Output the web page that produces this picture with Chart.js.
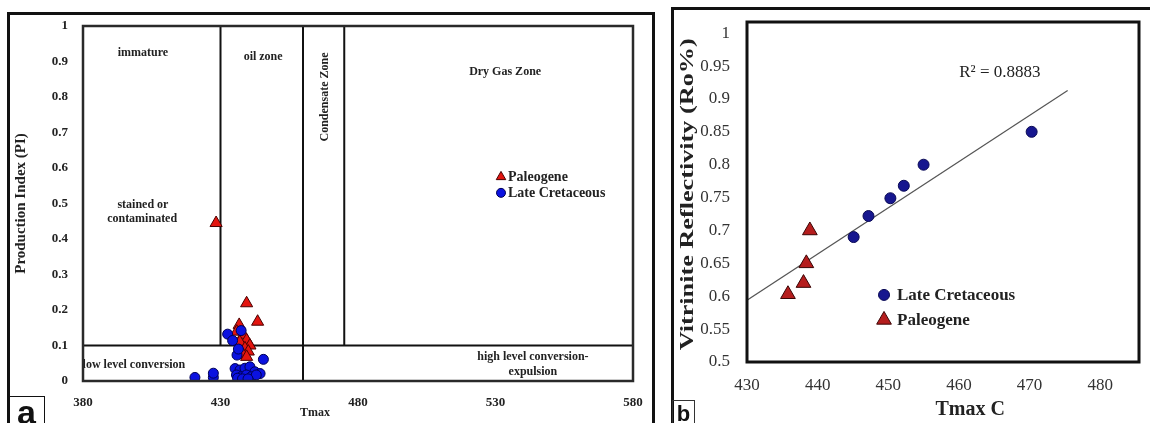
<!DOCTYPE html>
<html>
<head>
<meta charset="utf-8">
<script src="https://cdn.jsdelivr.net/npm/chart.js@4.4.1/dist/chart.umd.min.js"></script>
<style>
html,body{margin:0;padding:0;background:#fff;width:1150px;height:423px;overflow:hidden;}
body{position:relative;}
.abs{position:absolute;}
#frameA{left:7px;top:12px;width:642px;height:440px;border:3px solid #111;border-bottom:none;}
#frameB{left:671px;top:7px;width:520px;height:440px;border-left:3px solid #111;border-top:3px solid #111;}
#boxA{left:8px;top:396px;width:35px;height:40px;border:1.5px solid #111;font:bold 34px "Liberation Sans",Arial,sans-serif;line-height:30px;text-align:center;color:#111;}
#boxB{left:672px;top:400px;width:21px;height:30px;border:1.5px solid #333;font:bold 22px "Liberation Sans",Arial,sans-serif;line-height:26px;text-align:center;color:#111;}
#wrapA{left:8px;top:13px;width:640px;height:410px;}
#wrapB{left:675px;top:11px;width:475px;height:412px;}
</style>
</head>
<body>
<div id="frameA" class="abs"></div>
<div id="frameB" class="abs"></div>
<div id="wrapA" class="abs"><canvas id="chartA" width="640" height="410"></canvas></div>
<div id="wrapB" class="abs"><canvas id="chartB" width="475" height="412"></canvas></div>
<div id="boxA" class="abs">a</div>
<div id="boxB" class="abs">b</div>
<script>
// ---------- Data: panel a (Production Index vs Tmax) ----------
const paleogeneA_Tmax = [428.4, 439.5, 443.5, 436.8, 435.9, 438.3, 439.5, 437.0, 440.7, 438.9, 440.1, 438.3, 439.5];
const paleogeneA_PI   = [0.445, 0.219, 0.167, 0.158, 0.139, 0.130, 0.115, 0.110, 0.100, 0.092, 0.083, 0.073, 0.068];
const cretaceousA_Tmax = [420.7, 427.4, 427.4, 432.6, 434.4, 437.5, 436.0, 445.6, 435.3, 437.1, 438.9, 440.7, 442.5, 444.4, 435.8, 437.6, 439.4, 441.2, 443.0, 436.2, 438.0, 440.0, 436.5];
const cretaceousA_PI   = [0.010, 0.010, 0.022, 0.132, 0.114, 0.142, 0.073, 0.061, 0.035, 0.031, 0.036, 0.040, 0.026, 0.021, 0.017, 0.012, 0.017, 0.012, 0.017, 0.008, 0.006, 0.006, 0.090];
const xTicksA = [380, 430, 480, 530, 580];
const yTicksA = [0, 0.1, 0.2, 0.3, 0.4, 0.5, 0.6, 0.7, 0.8, 0.9, 1];
const zoneTmaxA = [430, 460, 475];   // oil zone, condensate zone, dry gas zone boundaries
const conversionPI = 0.1;            // low / high level conversion boundary

// ---------- Data: panel b (Vitrinite reflectance vs Tmax) ----------
const cretaceousB_Tmax = [445.1, 447.2, 450.3, 452.2, 455.0, 470.3];
const cretaceousB_Ro   = [0.690, 0.722, 0.749, 0.768, 0.800, 0.850];
const paleogeneB_Tmax  = [438.9, 438.4, 438.0, 435.8];
const paleogeneB_Ro    = [0.700, 0.650, 0.620, 0.603];
const trendB_Tmax = [430, 475.4];
const trendB_Ro   = [0.594, 0.913];
const xTicksB = [430, 440, 450, 460, 470, 480];
const yTicksB = [0.5, 0.55, 0.6, 0.65, 0.7, 0.75, 0.8, 0.85, 0.9, 0.95, 1];

const zip = (xs, ys) => xs.map((v, i) => ({x: v, y: ys[i]}));
const SERIF = '"Liberation Serif","Times New Roman",serif';
Chart.defaults.font.family = SERIF;
Chart.defaults.color = '#222';
const noPad = a => { a.paddingTop = 0; a.paddingBottom = 0; a.paddingLeft = 0; a.paddingRight = 0; };

// ---------- Panel a ----------
const annotA = {
  id: 'annotA',
  afterDatasetsDraw(chart) {
    const {ctx, chartArea: ca, scales: {x, y}} = chart;
    ctx.save();
    ctx.beginPath(); ctx.rect(ca.left, ca.top, ca.right - ca.left, ca.bottom - ca.top); ctx.clip();
    ctx.fillStyle = '#222'; ctx.textAlign = 'center'; ctx.textBaseline = 'middle';
    ctx.font = 'bold 12px ' + SERIF;
    const t = (s, xv, yv) => ctx.fillText(s, x.getPixelForValue(xv), y.getPixelForValue(yv));
    t('immature', 401.8, 0.924);
    t('oil zone', 445.5, 0.913);
    t('Dry Gas Zone', 533.5, 0.87);
    t('stained or', 401.8, 0.496);
    t('contaminated', 401.5, 0.456);
    t('low level conversion', 398.5, 0.045);
    t('high level conversion-', 543.6, 0.068);
    t('expulsion', 543.6, 0.025);
    ctx.save();
    ctx.translate(x.getPixelForValue(468), y.getPixelForValue(0.8));
    ctx.rotate(-Math.PI / 2);
    ctx.fillText('Condensate Zone', 0, 0);
    ctx.restore();
    // legend
    const items = [chart.data.datasets[1], chart.data.datasets[0]];
    const lx = x.getPixelForValue(532);
    [0.575, 0.53].forEach((yv, i) => {
      const ds = items[i];
      const py = y.getPixelForValue(yv);
      ctx.fillStyle = ds.backgroundColor; ctx.strokeStyle = ds.borderColor; ctx.lineWidth = 1;
      Chart.helpers.drawPoint(ctx, {pointStyle: ds.pointStyle, radius: ds.pointStyle === 'triangle' ? 5.5 : 4.5, borderWidth: 1}, lx, py);
      ctx.fillStyle = '#222'; ctx.textAlign = 'left'; ctx.font = 'bold 14px ' + SERIF;
      ctx.fillText(ds.label, lx + 7, py + 1);
    });
    ctx.restore();
    // plot frame
    ctx.save();
    ctx.strokeStyle = '#2a2a2a'; ctx.lineWidth = 2.5;
    ctx.strokeRect(ca.left, ca.top, ca.right - ca.left, ca.bottom - ca.top);
    // x title
    ctx.fillStyle = '#222'; ctx.textAlign = 'center'; ctx.textBaseline = 'middle';
    ctx.font = 'bold 12px ' + SERIF;
    ctx.fillText('Tmax', x.getPixelForValue(464.4), 400);
    ctx.restore();
  }
};

const lineStyle = {showLine: true, pointRadius: 0, borderColor: '#111', borderWidth: 2, order: 5, fill: false};
new Chart(document.getElementById('chartA'), {
  type: 'scatter',
  data: {
    datasets: [
      {label: 'Late Cretaceous', data: zip(cretaceousA_Tmax, cretaceousA_PI), pointStyle: 'circle',
       backgroundColor: '#0b12e0', borderColor: '#000055', borderWidth: 1, pointRadius: 5, order: 1},
      {label: 'Paleogene', data: zip(paleogeneA_Tmax, paleogeneA_PI), pointStyle: 'triangle',
       backgroundColor: '#e3150f', borderColor: '#4a0000', borderWidth: 1, pointRadius: 7, order: 2},
      Object.assign({label: 'oil', data: [{x: zoneTmaxA[0], y: conversionPI}, {x: zoneTmaxA[0], y: 1}]}, lineStyle),
      Object.assign({label: 'cond', data: [{x: zoneTmaxA[1], y: 0}, {x: zoneTmaxA[1], y: 1}]}, lineStyle),
      Object.assign({label: 'gas', data: [{x: zoneTmaxA[2], y: conversionPI}, {x: zoneTmaxA[2], y: 1}]}, lineStyle),
      Object.assign({label: 'conv', data: [{x: xTicksA[0], y: conversionPI}, {x: xTicksA[xTicksA.length - 1], y: conversionPI}]}, lineStyle)
    ]
  },
  options: {
    responsive: false, devicePixelRatio: 1, animation: false,
    layout: {padding: {top: 13, right: 15, left: 0, bottom: 0}},
    plugins: {legend: {display: false}, tooltip: {enabled: false}},
    scales: {
      x: {type: 'linear', min: 380, max: 580,
          afterBuildTicks: a => { a.ticks = xTicksA.map(v => ({value: v})); },
          afterFit: a => { a.height = 42; noPad(a); },
          grid: {display: false}, border: {display: false},
          ticks: {padding: 6, font: {size: 13, weight: 'bold'}, color: '#222', callback: v => String(v), maxRotation: 0}},
      y: {type: 'linear', min: 0, max: 1,
          afterBuildTicks: a => { a.ticks = yTicksA.map(v => ({value: v})); },
          afterFit: a => { a.width = 75; noPad(a); },
          grid: {display: false}, border: {display: false},
          title: {display: true, text: 'Production Index (PI)', font: {size: 15, weight: 'bold'}, color: '#222', padding: {top: 4, bottom: 0}},
          ticks: {padding: 7, font: {size: 13, weight: 'bold'}, color: '#222', callback: v => String(v)}}
    }
  },
  plugins: [annotA]
});

// ---------- Panel b ----------
const annotB = {
  id: 'annotB',
  afterDatasetsDraw(chart) {
    const {ctx, chartArea: ca, scales: {x, y}} = chart;
    ctx.save();
    ctx.fillStyle = '#222'; ctx.textAlign = 'center'; ctx.textBaseline = 'middle';
    ctx.font = '17px ' + SERIF;
    ctx.fillText('R² = 0.8883', x.getPixelForValue(465.8), y.getPixelForValue(0.94));
    const items = [chart.data.datasets[0], chart.data.datasets[1]];
    const lx = x.getPixelForValue(449.4);
    [0.602, 0.564].forEach((yv, i) => {
      const ds = items[i];
      const py = y.getPixelForValue(yv);
      ctx.fillStyle = ds.backgroundColor; ctx.strokeStyle = ds.borderColor; ctx.lineWidth = 1;
      Chart.helpers.drawPoint(ctx, {pointStyle: ds.pointStyle, radius: ds.pointRadius, borderWidth: 1}, lx, py);
      ctx.fillStyle = '#222'; ctx.textAlign = 'left'; ctx.font = 'bold 17px ' + SERIF;
      ctx.fillText(ds.label, lx + 13, py + 1);
    });
    ctx.strokeStyle = '#111'; ctx.lineWidth = 3;
    ctx.strokeRect(ca.left, ca.top, ca.right - ca.left, ca.bottom - ca.top);
    // x title
    ctx.fillStyle = '#222'; ctx.textAlign = 'center';
    ctx.font = 'bold 20px ' + SERIF;
    ctx.fillText('Tmax C', x.getPixelForValue(461.6), 399);
    // y title (stretched along its length as in the reference)
    ctx.font = 'bold 18px ' + SERIF;
    const title = 'Vitrinite Reflectivity (Ro%)';
    const w = ctx.measureText(title).width;
    ctx.translate(ca.left - 59, y.getPixelForValue(0.755));
    ctx.rotate(-Math.PI / 2);
    ctx.scale(312 / w, 1);
    ctx.fillText(title, 0, 0);
    ctx.restore();
  }
};

new Chart(document.getElementById('chartB'), {
  type: 'scatter',
  data: {
    datasets: [
      {label: 'Late Cretaceous', data: zip(cretaceousB_Tmax, cretaceousB_Ro), pointStyle: 'circle',
       backgroundColor: '#17178f', borderColor: '#0a0a55', borderWidth: 1, pointRadius: 5.5, order: 1},
      {label: 'Paleogene', data: zip(paleogeneB_Tmax, paleogeneB_Ro), pointStyle: 'triangle',
       backgroundColor: '#b51d1d', borderColor: '#3a0505', borderWidth: 1, pointRadius: 8.5, order: 2},
      {label: 'trend', data: zip(trendB_Tmax, trendB_Ro), showLine: true, pointRadius: 0,
       borderColor: '#555', borderWidth: 1.2, order: 5, fill: false}
    ]
  },
  options: {
    responsive: false, devicePixelRatio: 1, animation: false,
    layout: {padding: {top: 11, right: 11, left: 0, bottom: 0}},
    plugins: {legend: {display: false}, tooltip: {enabled: false}},
    scales: {
      x: {type: 'linear', min: 430, max: 485.5,
          afterBuildTicks: a => { a.ticks = xTicksB.map(v => ({value: v})); },
          afterFit: a => { a.height = 61; noPad(a); },
          grid: {display: false}, border: {display: false},
          ticks: {padding: 5, font: {size: 17}, color: '#333', callback: v => String(v), maxRotation: 0}},
      y: {type: 'linear', min: 0.5, max: 1.017,
          afterBuildTicks: a => { a.ticks = yTicksB.map(v => ({value: v})); },
          afterFit: a => { a.width = 72; noPad(a); },
          grid: {display: false}, border: {display: false},
          ticks: {padding: 9, font: {size: 17}, color: '#333', callback: v => String(v)}}
    }
  },
  plugins: [annotB]
});
</script>
</body>
</html>
